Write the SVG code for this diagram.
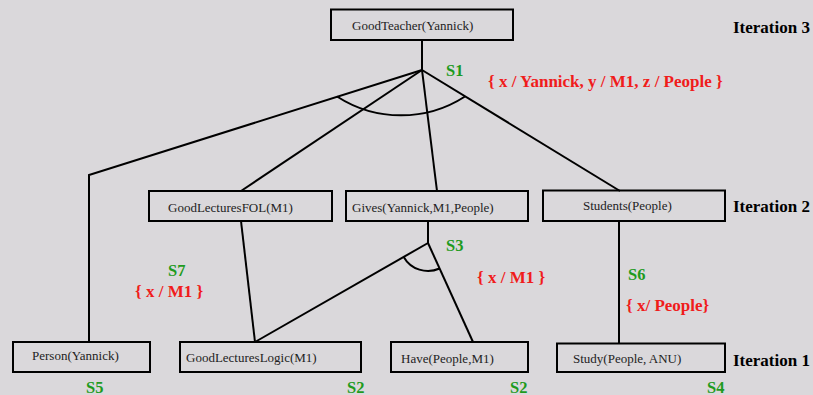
<svg xmlns="http://www.w3.org/2000/svg" width="813" height="395" viewBox="0 0 813 395">
<style>
.box{fill:none;stroke:#000;stroke-width:2}
.t{font-family:"Liberation Serif","Times New Roman",serif;font-size:13px;fill:#222}
.it{font-family:"Liberation Serif","Times New Roman",serif;font-size:17px;font-weight:bold;fill:#000}
.s{font-family:"Liberation Serif","Times New Roman",serif;font-size:16.5px;font-weight:bold;fill:#1e9b1e}
.u{font-family:"Liberation Serif","Times New Roman",serif;font-size:17px;font-weight:bold;fill:#f01c1c}
.c{fill:none;stroke:#000;stroke-width:2}
</style>
<rect width="813" height="395" fill="#dad8db"/>
<g id="connectors">
<line class="c" x1="422" y1="40" x2="422" y2="70"/>
<polyline class="c" points="422,70 89,175 89,342"/>
<line class="c" x1="422" y1="70" x2="241" y2="191"/>
<line class="c" x1="422" y1="70" x2="437" y2="191"/>
<line class="c" x1="422" y1="70" x2="620" y2="191"/>
<path class="c" d="M337,96.5 A118,118 0 0 0 465,96.5"/>
<line class="c" x1="241" y1="221" x2="255" y2="342"/>
<line class="c" x1="428" y1="221" x2="428" y2="243"/>
<line class="c" x1="428" y1="243" x2="255" y2="342"/>
<line class="c" x1="428" y1="243" x2="473" y2="342"/>
<path class="c" d="M403.7,256.9 A28,28 0 0 0 439.6,268.5"/>
<line class="c" x1="619" y1="221" x2="619" y2="343"/>
</g>
<g id="goodteacher"><rect class="box" x="331" y="9.5" width="182" height="30.5"/><text class="t" x="352" y="30">GoodTeacher(Yannick)</text></g>
<g id="goodlecturesfol"><rect class="box" x="149" y="191" width="183" height="30"/><text class="t" x="168" y="212">GoodLecturesFOL(M1)</text></g>
<g id="gives"><rect class="box" x="346" y="191" width="182" height="30"/><text class="t" x="352" y="212">Gives(Yannick,M1,People)</text></g>
<g id="students"><rect class="box" x="543" y="190.5" width="182" height="30.5"/><text class="t" x="583" y="209.5" font-size="12.5">Students(People)</text></g>
<g id="person"><rect class="box" x="13" y="342" width="137" height="30"/><text class="t" x="32" y="359.5" font-size="12.5">Person(Yannick)</text></g>
<g id="goodlectureslogic"><rect class="box" x="180" y="342" width="181" height="30"/><text class="t" x="186" y="362" font-size="12.5">GoodLecturesLogic(M1)</text></g>
<g id="have"><rect class="box" x="391" y="342" width="137" height="30"/><text class="t" x="401" y="362.5" font-size="12.5">Have(People,M1)</text></g>
<g id="study"><rect class="box" x="557" y="343.5" width="168" height="28.5"/><text class="t" x="573" y="363" font-size="12.5">Study(People, ANU)</text></g>
<g id="labels">
<text class="it" x="733" y="33">Iteration 3</text>
<text class="it" x="733" y="212">Iteration 2</text>
<text class="it" x="733" y="365.5">Iteration 1</text>
<text class="s" x="446" y="76">S1</text>
<text class="u" x="488" y="87">{ x / Yannick, y / M1, z / People }</text>
<text class="s" x="446" y="251">S3</text>
<text class="u" x="477" y="283">{ x / M1 }</text>
<text class="s" x="628" y="280">S6</text>
<text class="u" x="626" y="311">{ x/ People}</text>
<text class="s" x="168" y="275.5">S7</text>
<text class="u" x="135" y="296.5">{ x / M1 }</text>
<text class="s" x="86" y="392.5">S5</text>
<text class="s" x="347" y="392.5">S2</text>
<text class="s" x="510" y="392.5">S2</text>
<text class="s" x="707" y="392.5">S4</text>
</g>
</svg>
